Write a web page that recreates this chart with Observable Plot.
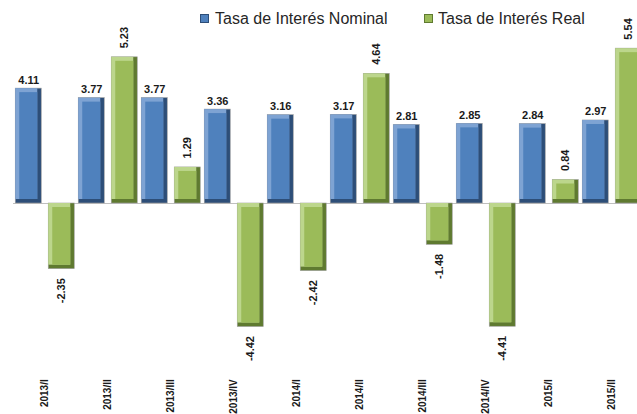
<!DOCTYPE html>
<html><head><meta charset="utf-8">
<script src="https://cdn.jsdelivr.net/npm/d3@7"></script>
<script src="https://cdn.jsdelivr.net/npm/@observablehq/plot@0.6"></script>
<style>
html,body{margin:0;padding:0;background:#fff;overflow:hidden;}
#wrap{position:relative;width:637px;height:414px;overflow:hidden;}
#chart{position:absolute;top:0;left:0;width:660px;}
#chart svg{max-width:none !important;}
.item{position:absolute;top:11px;height:16px;line-height:16px;font-family:"Liberation Sans",Arial,sans-serif;font-size:16px;color:#262626;white-space:nowrap;}
.sw{position:absolute;top:14px;width:9px;height:9px;box-sizing:border-box;}
</style></head><body>
<div id="wrap"><div id="chart"></div><div id="legend"></div></div>
<script>
const categories = ["2013/I","2013/II","2013/III","2013/IV","2014/I","2014/II","2014/III","2014/IV","2015/I","2015/II"];
const seriesNames = ["Tasa de Interés Nominal","Tasa de Interés Real"];
const nominal = [4.11,3.77,3.77,3.36,3.16,3.17,2.81,2.85,2.84,2.97];
const real = [-2.35,5.23,1.29,-4.42,-2.42,4.64,-1.48,-4.41,0.84,5.54];
const mainColors = ["#4f81bd","#9bbb59"];
const lightColors = ["#7ea3d3","#bcd68c"];
const darkColors = ["#2d4e78","#5f7a30"];

const rows = [];
categories.forEach((c,i)=>{
  rows.push({cat:c, series:seriesNames[0], value:nominal[i], k:0});
  rows.push({cat:c, series:seriesNames[1], value:real[i], k:1});
});
const nomRows = rows.filter(d=>d.k===0);
const realPos = rows.filter(d=>d.k===1 && d.value>=0);
const realNeg = rows.filter(d=>d.k===1 && d.value<0);

const W = 660;
const chart = Plot.plot({
  width: W, height: 414,
  marginLeft: 10.75, marginRight: W - 645.75, marginTop: 35.3, marginBottom: 71.25,
  style: {maxWidth: "none"},
  fx: {domain: categories, padding: 0, label: null, axis: null},
  x: {domain: seriesNames, paddingInner: 0.206, paddingOuter: 0.037, axis: null},
  y: {domain: [-5, 6], axis: null},
  marks: [
    Plot.ruleY([0], {stroke: "#bfbfbf", strokeWidth: 1.2}),
    Plot.barY(rows, {fx:"cat", x:"series", y:"value", fill: d=>darkColors[d.k], stroke:"#a0a0a0", strokeWidth:0.6}),
    Plot.barY(rows, {fx:"cat", x:"series", y:"value", fill: d=>lightColors[d.k], insetRight:4, insetBottom:4}),
    Plot.barY(rows, {fx:"cat", x:"series", y:"value", fill: d=>mainColors[d.k], inset:4}),
    Plot.text(nomRows, {fx:"cat", x:"series", y:"value", text: d=>d.value.toFixed(2), dy:-5, lineAnchor:"bottom", fontWeight:"bold", fontSize:11, fill:"#1a1a1a", fontFamily:"Liberation Sans, Arial, sans-serif"}),
    Plot.text(realPos, {fx:"cat", x:"series", y:"value", text: d=>d.value.toFixed(2), dy:-9, rotate:-90, textAnchor:"start", fontWeight:"bold", fontSize:11, fill:"#1a1a1a", fontFamily:"Liberation Sans, Arial, sans-serif"}),
    Plot.text(realNeg, {fx:"cat", x:"series", y:"value", text: d=>d.value.toFixed(2), dy:9, rotate:-90, textAnchor:"end", fontWeight:"bold", fontSize:11, fill:"#1a1a1a", fontFamily:"Liberation Sans, Arial, sans-serif"}),
    Plot.axisFx({anchor:"bottom", tickSize:0, tickPadding:36, tickRotate:-90, fontWeight:"bold", fontSize:10, fill:"#1a1a1a", fontFamily:"Liberation Sans, Arial, sans-serif", label:null})
  ]
});
document.getElementById("chart").appendChild(chart);

const legend = document.getElementById("legend");
const legendPos = [{sw:200, tx:215},{sw:424, tx:438}];
seriesNames.forEach((s,i)=>{
  const sw = document.createElement("div");
  sw.className = "sw";
  sw.style.left = legendPos[i].sw + "px";
  sw.style.background = mainColors[i];
  sw.style.border = "1px solid " + darkColors[i];
  legend.appendChild(sw);
  const t = document.createElement("div");
  t.className = "item";
  t.style.left = legendPos[i].tx + "px";
  t.textContent = s;
  legend.appendChild(t);
});
</script>
</body></html>
